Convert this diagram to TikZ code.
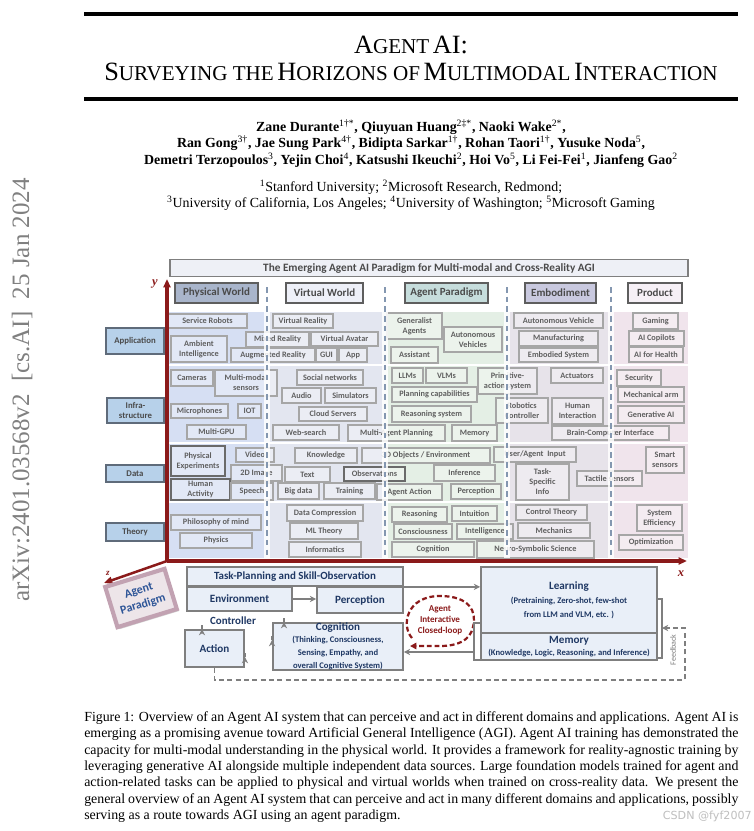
\documentclass[tikz,border=0pt]{standalone}
\usepackage{fontspec}
\setmainfont{Liberation Serif}
\newfontfamily\carl{Carlito}
\newfontfamily\dvs{DejaVu Sans}
\usetikzlibrary{arrows.meta,calc,shadows}

\definecolor{axred}{HTML}{8B1A1A}
\definecolor{itemtxt}{HTML}{5F5F5F}
\definecolor{itemline}{HTML}{A6A6A6}
\definecolor{itemdark}{HTML}{6A6A6A}
\definecolor{bgphys}{HTML}{D6DFF3}
\definecolor{bgvirt}{HTML}{E3E6F0}
\definecolor{bgagent}{HTML}{E4EFE5}
\definecolor{bgemb}{HTML}{E7E3EA}
\definecolor{bgprod}{HTML}{F0E4EC}
\definecolor{hdphys}{HTML}{A9B5CB}
\definecolor{hdvirt}{HTML}{EEF0F8}
\definecolor{hdagent}{HTML}{C6DDDC}
\definecolor{hdemb}{HTML}{C9C9DF}
\definecolor{hdprod}{HTML}{F6F0F6}
\definecolor{hdline}{HTML}{5E5E5E}
\definecolor{hdtxt}{HTML}{4A4A4A}
\definecolor{rowfill}{HTML}{B7D1EA}
\definecolor{rowline}{HTML}{5F6B7A}
\definecolor{banfill}{HTML}{EEF0F6}
\definecolor{sepcol}{HTML}{8497B0}
\definecolor{dblcol}{HTML}{9DACC0}
\definecolor{navy}{HTML}{1F3864}
\definecolor{flowfill}{HTML}{E9EFF8}
\definecolor{flowline}{HTML}{7F7F7F}
\definecolor{stampcol}{HTML}{808080}
\definecolor{apblue}{HTML}{2E5597}
\definecolor{apfill}{HTML}{EDE5E9}
\definecolor{apline}{HTML}{C2A2B2}

\newcommand\bigc[1]{{\fontsize{19}{22}\selectfont #1}}
\newcommand\smc[1]{{\fontsize{15.2}{22}\selectfont #1}}
\newcommand\sups[1]{\textsuperscript{\normalfont #1}}
\newcommand\ftB{\fontsize{8}{9.4}\selectfont}
\newcommand\ftS{\fontsize{6.2}{7.4}\selectfont}
\newcommand\bx[7][]{\node[itembox,#1,minimum width={(#5-#3)*0.72pt},minimum height={(#6-#4)*0.72pt}] (#2) at ({(#3+#5)/2},{(#4+#6)/2}) {#7};}

\tikzset{
  itembox/.style={draw=itemline, line width=0.8pt, fill=white, fill opacity=0.3, text opacity=1, inner sep=0pt, text=itemtxt, font=\carl\bfseries\fontsize{5.95}{7.2}\selectfont, align=center},
  darkbox/.style={draw=itemdark},
  hdbox/.style={draw=hdline, line width=1.3pt, fill opacity=1, text=hdtxt, font=\carl\bfseries\fontsize{7.9}{9}\selectfont},
  rowbox/.style={draw=rowline, line width=1.3pt, fill=rowfill, fill opacity=1, text=hdtxt, font=\carl\bfseries\fontsize{6.3}{7.4}\selectfont},
  banner/.style={draw=flowline, line width=1pt, fill=banfill, fill opacity=1, text=hdtxt, font=\carl\bfseries\fontsize{8.1}{9}\selectfont},
  flowbox/.style={draw=flowline, line width=1.3pt, fill=flowfill, fill opacity=1, text=navy, font=\carl\bfseries\fontsize{8}{9.4}\selectfont},
  garrow/.style={draw=flowline, line width=1.4pt, -{Stealth[length=4.5pt,width=4.5pt]}},
  gdash/.style={draw=flowline, line width=1.3pt, dash pattern=on 3.5pt off 2.5pt},
  axis/.style={draw=axred, line width=2.2pt, -{Triangle[length=6pt,width=5pt]}},
  sepwhite/.style={draw=white, line width=4.5pt, opacity=0.85},
  sepdash/.style={draw=sepcol, line width=1.4pt, dash pattern=on 4pt off 3pt},
  dblline/.style={draw=dblcol, line width=0.6pt, double=white, double distance=0.9pt},
  plain/.style={inner sep=0pt},
}

\begin{document}
\begin{tikzpicture}[x=0.72pt,y=-0.72pt]
\useasboundingbox (0,0) rectangle (754,831);
\fill[white] (0,0) rectangle (754,831);

% ---------- title block ----------
\coordinate (r1a) at (84,14); \coordinate (r1b) at (738,14);
\coordinate (r2a) at (84,99); \coordinate (r2b) at (738,99);
\draw[line width=2.2pt] (r1a) -- (r1b);
\draw[line width=2.2pt] (r2a) -- (r2b);
\node[plain] (t1) at (411,45) {\bigc{A}\smc{GENT} \bigc{AI:}};
\node[plain] (t2) at (411,72) {\bigc{S}\smc{URVEYING THE} \bigc{H}\smc{ORIZONS OF} \bigc{M}\smc{ULTIMODAL} \bigc{I}\smc{NTERACTION}};
\node[plain, font=\bfseries\fontsize{10}{12}\selectfont] (au1) at (411,127) {Zane Durante\sups{1†*}, Qiuyuan Huang\sups{2‡*}, Naoki Wake\sups{2*},};
\node[plain, font=\bfseries\fontsize{10}{12}\selectfont] (au2) at (411,143) {Ran Gong\sups{3†}, Jae Sung Park\sups{4†}, Bidipta Sarkar\sups{1†}, Rohan Taori\sups{1†}, Yusuke Noda\sups{5},};
\node[plain, font=\bfseries\fontsize{10}{12}\selectfont] (au3) at (411,160) {Demetri Terzopoulos\sups{3}, Yejin Choi\sups{4}, Katsushi Ikeuchi\sups{2}, Hoi Vo\sups{5}, Li Fei-Fei\sups{1}, Jianfeng Gao\sups{2}};
\node[plain, font=\fontsize{10}{12}\selectfont] (af1) at (411,187) {\sups{1}Stanford University; \sups{2}Microsoft Research, Redmond;};
\node[plain, font=\fontsize{10}{12}\selectfont] (af2) at (411,203) {\sups{3}University of California, Los Angeles; \sups{4}University of Washington; \sups{5}Microsoft Gaming};

% arXiv stamp
\node[plain, rotate=90, text=stampcol, font=\fontsize{18}{22}\selectfont] (stamp) at (22,390) {arXiv:2401.03568v2\ \ [cs.AI]\ \ 25 Jan 2024};

% ---------- diagram ----------
\node[banner, minimum width={518*0.72pt}, minimum height={17*0.72pt}, inner sep=0pt] (ban) at (429,268) {The Emerging Agent AI Paradigm for Multi-modal and Cross-Reality AGI};

% column backgrounds
\fill[bgphys]  (168,312) rectangle (267,558);
\fill[bgvirt]  (267,312) rectangle (385,558);
\fill[bgagent] (385,312) rectangle (507,558);
\fill[bgemb]   (507,312) rectangle (611,558);
\fill[bgprod]  (611,312) rectangle (688,558);

% row separators
\draw[dblline] (105,365) -- (690,365);
\draw[dblline] (105,443) -- (690,443);
\draw[dblline] (105,502) -- (690,502);

% Application row
\bx{sr}{168}{314}{247}{328}{Service Robots}
\bx{ambi}{171}{336}{227}{362}{Ambient\\Intelligence}
\bx{mr}{246}{332}{309}{347}{Mixed Reality}
\bx{va}{311}{332}{378}{346}{Virtual Avatar}
\bx{augr}{231}{348}{315}{362}{Augmented Reality}
\bx{gui}{316}{348}{337}{362}{GUI}
\bx{app}{339}{348}{367}{362}{App}
\bx{vr}{273}{314}{333}{328}{Virtual Reality}
\bx{ga}{387}{313}{442}{339}{Generalist\\Agents}
\bx{avs}{444}{327}{502}{352}{Autonomous\\Vehicles}
\bx{asst}{391}{347}{438}{363}{Assistant}
\bx{avh}{514}{313}{603}{328}{Autonomous Vehicle}
\bx{mfg}{519}{331}{598}{346}{Manufacturing}
\bx{es}{519}{348}{598}{362}{Embodied System}
\bx{gam}{633}{313}{678}{329}{Gaming}
\bx{cop}{629}{331}{684}{346}{AI Copilots}
\bx{hea}{629}{347}{683}{362}{AI for Health}

% Infrastructure row
\bx{cam}{171}{370}{213}{386}{Cameras}
\bx{mms}{215}{370}{277}{396}{Multi-modal\\sensors}
\bx{sn}{297}{370}{363}{385}{Social networks}
\bx{aud}{282}{388}{321}{403}{Audio}
\bx{sim}{325}{388}{376}{403}{Simulators}
\bx{cs}{299}{407}{367}{421}{Cloud Servers}
\bx{mic}{171}{404}{228}{418}{Microphones}
\bx{iot}{238}{404}{261}{418}{IOT}
\bx{gpu}{187}{425}{246}{439}{Multi-GPU}
\bx{ws}{273}{425}{339}{440}{Web-search}
\bx{map}{348}{425}{445}{441}{Multi-Agent Planning}
\bx{mem}{452}{425}{497}{441}{Memory}
\bx{llm}{392}{368}{423}{383}{LLMs}
\bx{vlm}{426}{368}{467}{383}{VLMs}
\bx{pas}{478}{368}{537}{394}{Primitive-\\action system}
\bx{pc}{392}{387}{477}{402}{Planning capabilities}
\bx{rs}{392}{406}{471}{422}{Reasoning system}
\bx{rc}{496}{398}{548}{423}{Robotics\\Controller}
\bx{hi}{552}{398}{603}{424}{Human\\Interaction}
\bx{actu}{551}{368}{603}{383}{Actuators}
\bx{sec}{617}{370}{661}{386}{Security}
\bx{marm}{618}{387}{684}{402}{Mechanical arm}
\bx{gen}{618}{406}{684}{423}{Generative AI}
\bx{bci}{552}{426}{669}{440}{Brain-Computer Interface}

% Data row
\bx[darkbox]{pe}{171}{446}{225}{476}{Physical\\Experiments}
\bx{vid}{236}{448}{274}{462}{Video}
\bx{kn}{295}{448}{357}{463}{Knowledge}
\bx{obj}{362}{448}{490}{463}{3D Objects / Environment}
\bx{uai}{494}{447}{576}{462}{User/Agent\ \ Input}
\bx{ss}{646}{447}{684}{473}{Smart\\sensors}
\bx{img}{231}{465}{282}{481}{2D Image}
\bx{txt}{285}{467}{330}{482}{Text}
\bx[darkbox]{obs}{344}{467}{405}{481}{Observations}
\bx{infe}{434}{465}{495}{481}{Inference}
\bx{tsi}{516}{464}{569}{500}{Task-\\Specific\\Info}
\bx{tac}{577}{471}{642}{486}{Tactile sensors}
\bx[darkbox]{ha}{171}{479}{230}{500}{Human\\Activity}
\bx{sp}{231}{483}{273}{500}{Speech}
\bx{bd}{278}{483}{319}{499}{Big data}
\bx{tr}{324}{483}{375}{499}{Training}
\bx{aa}{377}{484}{442}{500}{Agent Action}
\bx{per}{451}{484}{501}{499}{Perception}

% Theory row
\bx{pm}{171}{515}{261}{530}{Philosophy of mind}
\bx{phy}{180}{533}{252}{548}{Physics}
\bx{dc}{287}{505}{363}{521}{Data Compression}
\bx{mlt}{290}{523}{358}{539}{ML Theory}
\bx{infm}{289}{542}{361}{557}{Informatics}
\bx{rea}{392}{507}{447}{522}{Reasoning}
\bx{intu}{452}{506}{497}{521}{Intuition}
\bx{con}{394}{524}{452}{539}{Consciousness}
\bx{intel}{457}{524}{513}{539}{Intelligence}
\bx{cog}{392}{542}{474}{557}{Cognition}
\bx{nss}{477}{541}{594}{558}{Neuro-Symbolic Science}
\bx{ct}{516}{505}{587}{520}{Control Theory}
\bx{mech}{518}{523}{590}{538}{Mechanics}
\bx{se}{637}{505}{682}{531}{System\\Efficiency}
\bx{opt}{619}{535}{683}{550}{Optimization}

% dashed column separators
\foreach \sx in {267,385,507,611}{
  \draw[sepwhite] (\sx,287) -- (\sx,558);
  \draw[sepdash] (\sx,287) -- (\sx,558);
}

% column headers
\bx[hdbox, fill=hdphys]{hphys}{175}{283}{258}{303}{Physical World}
\bx[hdbox, fill=hdvirt]{hvirt}{286}{283}{363}{303}{Virtual World}
\bx[hdbox, fill=hdagent]{hagent}{405}{283}{488}{303}{Agent Paradigm}
\bx[hdbox, fill=hdemb]{hemb}{525}{283}{596}{303}{Embodiment}
\bx[hdbox, fill=hdprod]{hprod}{628}{283}{682}{303}{Product}

% row labels
\bx[rowbox]{lapp}{106}{328}{164}{354}{Application}
\bx[rowbox]{linf}{107}{398}{164}{423}{Infra-\\structure}
\bx[rowbox]{ldat}{106}{465}{164}{482}{Data}
\bx[rowbox]{lthe}{106}{523}{164}{541}{Theory}

% axes
\coordinate (O) at (167,561);
\coordinate (ytip) at (167,279);
\coordinate (xtip) at (687,561);
\coordinate (ztip) at (104,583);
\draw[axis] (O) -- (ytip);
\draw[axis] (O) -- (xtip);
\draw[axis, line width=1.8pt] (O) -- (ztip);
\node[plain, text=axred, font=\itshape\bfseries\fontsize{9}{10}\selectfont] (ylab) at (155,284) {y};
\node[plain, text=axred, font=\itshape\bfseries\fontsize{9}{10}\selectfont] (xlab) at (681,574) {x};
\node[plain, text=axred, font=\itshape\bfseries\fontsize{6.5}{7}\selectfont] (zlab) at (108,573) {z};

% Agent Paradigm block
\node[rotate=17, draw=apline, line width=3pt, fill=apfill, drop shadow={shadow xshift=1.5pt, shadow yshift=-1.5pt, opacity=0.35}, minimum width={62*0.72pt}, minimum height={42*0.72pt}, inner sep=0pt, align=center, text=apblue, font=\carl\bfseries\fontsize{8.6}{10.4}\selectfont] (apar) at (141,598) {Agent\\Paradigm};

% ---------- flow diagram ----------
\node[flowbox, minimum width={216*0.72pt}, minimum height={19*0.72pt}, inner sep=0pt, font=\carl\bfseries\fontsize{7.9}{9}\selectfont] (tp) at (295,576.5) {Task-Planning and Skill-Observation};
\node[flowbox, minimum width={105*0.72pt}, minimum height={24*0.72pt}, inner sep=0pt] (env) at (239.5,599) {Environment};
\node[flowbox, minimum width={86*0.72pt}, minimum height={26*0.72pt}, inner sep=0pt] (perc) at (360,600) {Perception};
\node[flowbox, minimum width={59*0.72pt}, minimum height={37*0.72pt}, inner sep=0pt] (actn) at (214.5,648.5) {Action};
\node[flowbox, minimum width={130*0.72pt}, minimum height={47*0.72pt}, inner sep=0pt, align=center] (cogn) at (338,646.5) {\ftB Cognition\\[-1pt]\ftS (Thinking, Consciousness,\\\ftS Sensing, Empathy, and\\\ftS overall Cognitive System)};
\node[flowbox, minimum width={176*0.72pt}, minimum height={66*0.72pt}, inner sep=0pt, align=center] (learn) at (569,600) {\ftB Learning\\[1pt]\ftS (Pretraining, Zero-shot, few-shot\\\ftS from LLM and VLM, etc. )};
\node[flowbox, minimum width={176*0.72pt}, minimum height={27*0.72pt}, inner sep=0pt, align=center] (memo) at (569,646.5) {\ftB Memory\\[-0.5pt]\ftS (Knowledge, Logic, Reasoning, and Inference)};
\node[plain, text=navy, font=\carl\bfseries\fontsize{7.9}{9}\selectfont] (ctl) at (233,621) {Controller};

% closed loop
\node[plain, align=center, text=axred, font=\carl\bfseries\fontsize{6.5}{8}\selectfont] (loop) at (440,620) {Agent\\Interactive\\Closed-loop};
\draw[draw=axred, line width=1.6pt, dash pattern=on 3.5pt off 2pt, -{Triangle[length=4.5pt,width=4.5pt]}]
  (412,638) .. controls (401,626) and (406,596) .. (440,596)
  .. controls (470,596) and (477,612) .. (473,627)
  .. controls (470,641) and (457,646) .. (440,646) -- (410,646);

% connectors
\draw[garrow] (env.east) -- (perc.west |- env.east);
\draw[garrow] ($(actn.north)+(-12.5,0)$) -- ($(actn.north)+(-12.5,0)$ |- env.south);
\draw[garrow] ($(cogn.north)+(-54,0)$) -- ($(cogn.north)+(-54,0)$ |- env.south);
\draw[garrow] ($(cogn.west)+(0,-6.5)$) -- ($(cogn.west)+(0,-6.5)$ -| actn.east);
\draw[gdash, -{Stealth[length=4.5pt,width=4.5pt]}] ($(actn.east)+(0,8.5)$) -- ($(actn.east)+(0,8.5)$ -| cogn.west);
\draw[garrow] (tp.south east) -- (tp.south east -| learn.west);

% brackets
\draw[draw=flowline, line width=1.3pt] (481,623) -- (474,623) -- (474,660) -- (481,660);
\draw[draw=flowline, line width=1.3pt] (657,599) -- (662,599) -- (662,658) -- (657,658);
\coordinate (lb) at (474,652);
\draw[garrow] (lb) -- (lb -| cogn.east);

% feedback
\coordinate (fbin) at (662,628);
\draw[gdash, -{Stealth[length=4.5pt,width=4.5pt]}] (actn.south) -- (actn.south |- 0,680) -- (685,680) -- (685,628) -- (fbin);
\node[plain, rotate=90, text=flowline, font=\carl\fontsize{5.8}{6.5}\selectfont] (fbl) at (673,650) {Feedback};

% ---------- caption ----------
\foreach \ln/\yy/\tx in {
 1/718/{Figure 1: Overview of an Agent AI system that can perceive and act in different domains and applications. Agent AI is},
 2/734.5/{emerging as a promising avenue toward Artificial General Intelligence (AGI). Agent AI training has demonstrated the},
 3/751/{capacity for multi-modal understanding in the physical world. It provides a framework for reality-agnostic training by},
 4/767.3/{leveraging generative AI alongside multiple independent data sources. Large foundation models trained for agent and},
 5/783.6/{action-related tasks can be applied to physical and virtual worlds when trained on cross-reality data. We present the},
 6/800/{general overview of an Agent AI system that can perceive and act in many different domains and applications, possibly}}{
  \node[plain, anchor=west, font=\fontsize{10}{12}\selectfont] (cap\ln) at (84,\yy) {\makebox[471pt][s]{\tx}};
}
\node[plain, anchor=west, font=\fontsize{10}{12}\selectfont] (cap7) at (84,816.3) {serving as a route towards AGI using an agent paradigm.};
\node[plain, anchor=east, text=black!25, font=\dvs\fontsize{8}{9}\selectfont] (wm) at (752,816) {CSDN @fyf2007};
\end{tikzpicture}
\end{document}
